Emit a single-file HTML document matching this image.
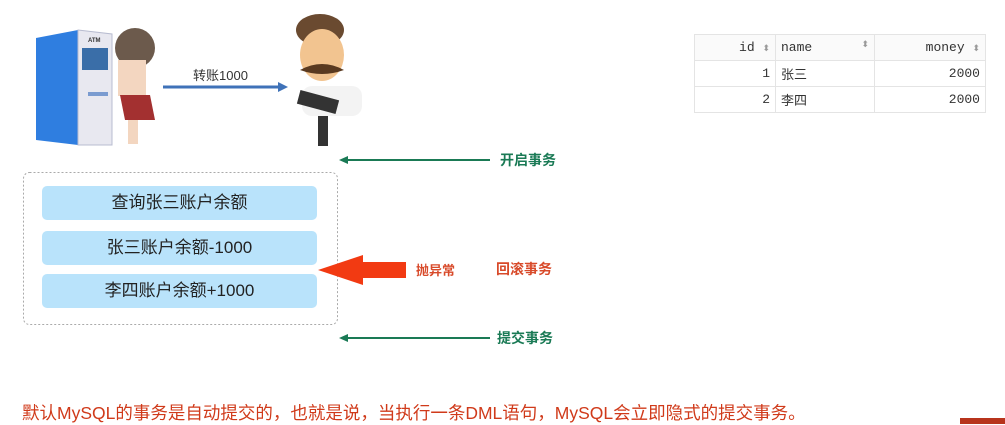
<!DOCTYPE html>
<html><head><meta charset="utf-8"><style>
body{margin:0;width:1005px;height:424px;background:#fff;position:relative;overflow:hidden;font-family:"Liberation Sans","Noto Sans CJK SC",sans-serif}
.a{position:absolute}
.box{position:absolute;left:42px;width:275px;height:34px;background:#b9e3fb;border-radius:5px;text-align:center;line-height:34px;font-size:17px;color:#222}
table{position:absolute;left:694px;top:34px;border-collapse:collapse;font-family:"Liberation Mono","Noto Sans CJK SC",monospace;font-size:13px;color:#333}
td{border:1px solid #e4e4e4;height:25px;padding:0 5px}
.g{color:#1a7a55;font-weight:bold;font-size:14px}
</style></head><body>
<svg class="a" style="left:0;top:0" width="1005" height="424">
<polygon points="36,38 78,30 78,145 36,140" fill="#2f7ee0"/>
<polygon points="78,30 112,34 112,145 78,145" fill="#e8e8f0" stroke="#b8bcd0"/>
<rect x="82" y="48" width="26" height="22" fill="#3a6ea8"/>
<text x="88" y="42" font-size="6" font-weight="bold" fill="#333">ATM</text>
<rect x="88" y="92" width="20" height="4" fill="#7a9bd0"/>
<ellipse cx="135" cy="48" rx="20" ry="20" fill="#6c5a4c"/>
<rect x="118" y="60" width="28" height="36" fill="#f3d6c0"/>
<path d="M120 95 L150 95 L155 120 L125 120Z" fill="#a33030"/>
<rect x="128" y="120" width="10" height="24" fill="#f3d6c0"/>
<ellipse cx="320" cy="30" rx="24" ry="16" fill="#6a4a30"/>
<ellipse cx="322" cy="55" rx="22" ry="26" fill="#f2c490"/>
<path d="M300 70 Q322 58 344 70 Q322 78 300 70Z" fill="#5a3a20"/>
<rect x="302" y="86" width="60" height="30" rx="10" fill="#f3f3f3"/>
<rect x="298" y="95" width="40" height="14" fill="#333" transform="rotate(15 318 102)"/>
<rect x="318" y="116" width="10" height="30" fill="#333"/>
<line x1="163" y1="87" x2="280" y2="87" stroke="#3f72b8" stroke-width="3"/>
<polygon points="288,87 278,82 278,92" fill="#3f72b8"/>
<rect x="23.5" y="172.5" width="314" height="152" rx="6" fill="none" stroke="#aaa" stroke-dasharray="2,2"/>
<line x1="346" y1="160" x2="490" y2="160" stroke="#1a7a55" stroke-width="2"/>
<polygon points="339,160 348,156 348,164" fill="#1a7a55"/>
<line x1="346" y1="338" x2="490" y2="338" stroke="#1a7a55" stroke-width="2"/>
<polygon points="339,338 348,334 348,342" fill="#1a7a55"/>
<polygon points="318,270 363,255 363,262 406,262 406,278 363,278 363,285" fill="#f23a12"/>
<rect x="960" y="418" width="45" height="6" fill="#b8341c"/>
</svg>
<div class="a" style="left:193px;top:65px;font-size:13px;color:#333">转账1000</div>
<table>
<tr style="background:#fafafa"><td style="width:70px;text-align:right">id <span style="color:#999;font-size:9px">⬍</span></td><td style="width:88px">name <span style="float:right;color:#999;font-size:9px">⬍</span></td><td style="width:100px;text-align:right">money <span style="color:#999;font-size:9px">⬍</span></td></tr>
<tr><td style="text-align:right">1</td><td>张三</td><td style="text-align:right">2000</td></tr>
<tr><td style="text-align:right">2</td><td>李四</td><td style="text-align:right">2000</td></tr>
</table>
<div class="box" style="top:186px">查询张三账户余额</div>
<div class="box" style="top:231px">张三账户余额-1000</div>
<div class="box" style="top:274px">李四账户余额+1000</div>
<div class="a g" style="left:500px;top:150px">开启事务</div>
<div class="a g" style="left:497px;top:328px">提交事务</div>
<div class="a" style="left:416px;top:260px;font-size:13px;font-weight:bold;color:#d84a2a">抛异常</div>
<div class="a" style="left:496px;top:259px;font-size:14px;font-weight:bold;color:#d84a2a">回滚事务</div>
<div class="a" style="left:22px;top:400px;font-size:17.5px;color:#d03a1a;white-space:nowrap">默认MySQL的事务是自动提交的，也就是说，当执行一条DML语句，MySQL会立即隐式的提交事务。</div>
</body></html>
